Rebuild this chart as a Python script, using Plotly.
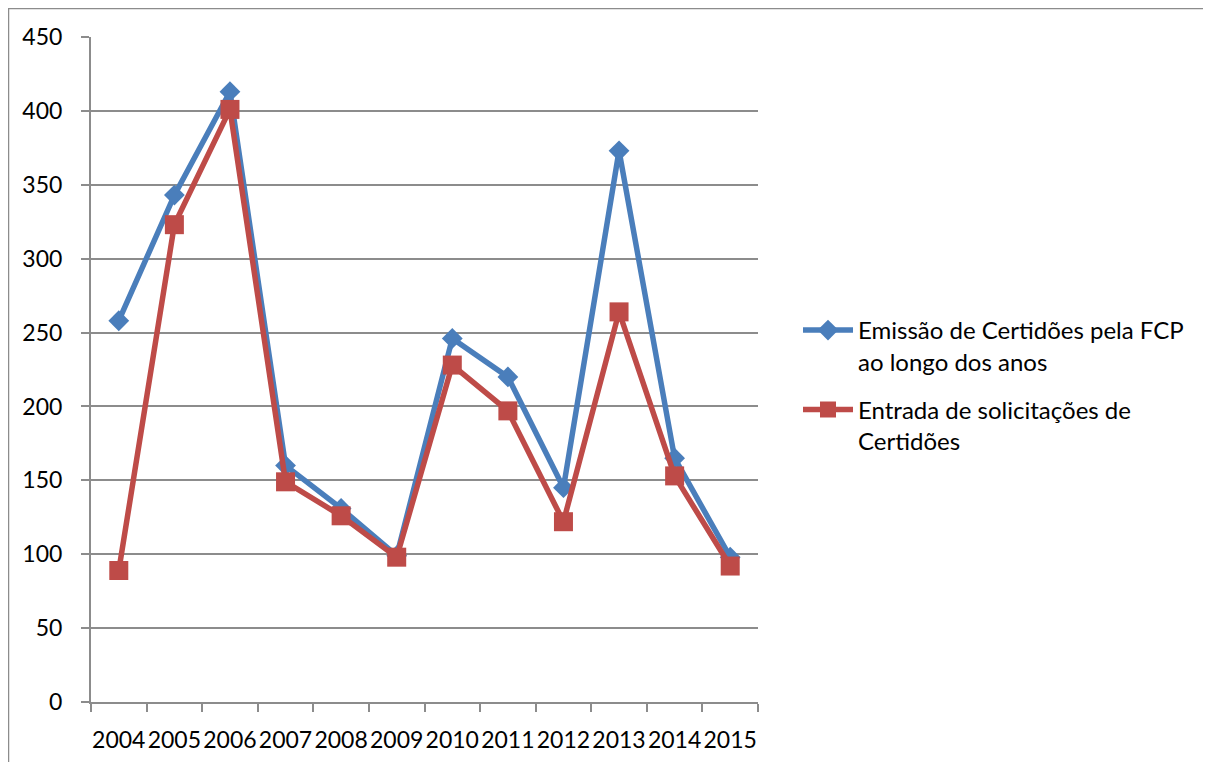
import plotly.graph_objects as go

years = ["2004", "2005", "2006", "2007", "2008", "2009", "2010", "2011", "2012", "2013", "2014", "2015"]
emissao = [258, 343, 413, 160, 131, 99, 246, 220, 145, 373, 165, 98]
entrada = [89, 323, 401, 149, 126, 98, 228, 197, 122, 264, 153, 92]
y_ticks = [0, 50, 100, 150, 200, 250, 300, 350, 400, 450]

name1 = "Emissão de Certidões pela FCP<br>ao longo dos anos"
name2 = "Entrada de solicitações de<br>Certidões"

BLUE = "#4a7ebb"
RED = "#be4b48"
GRID = "#8c8c8c"
FONT = "Lato, 'Open Sans', sans-serif"

W, H = 1203, 754
L, R, T, B = 83, 750, 29, 694  # plot area in figure pixels
PW, PH = R - L, B - T

fig = go.Figure()
fig.add_trace(go.Scatter(
    x=years, y=emissao, name=name1, mode="lines+markers", legendgroup="a",
    line=dict(color=BLUE, width=5.5),
    marker=dict(symbol="diamond", size=16, color=BLUE),
))
fig.add_trace(go.Scatter(
    x=years, y=entrada, name=name2, mode="lines+markers", legendgroup="b",
    line=dict(color=RED, width=5.5),
    marker=dict(symbol="square", size=19, color=RED),
))

fig.update_layout(
    width=W, height=H,
    margin=dict(l=L, r=W - R, t=T, b=H - B, pad=0, autoexpand=False),
    paper_bgcolor="white", plot_bgcolor="white",
    font=dict(family=FONT, size=23, color="black"),
    showlegend=True,
    legend=dict(x=(790 - L) / PW, y=(B - 300) / PH, xanchor="left", yanchor="top",
                font=dict(size=24), tracegroupgap=14, valign="top",
                traceorder="grouped", itemwidth=50, bgcolor="rgba(0,0,0,0)"),
    xaxis=dict(type="category", range=[-0.5, len(years) - 0.5],
               tickson="boundaries", ticks="outside",
               ticklen=8, tickwidth=2, tickcolor=GRID, tickangle=0,
               showline=True, linecolor=GRID, linewidth=2,
               showgrid=False, zeroline=False, ticklabelstandoff=16,
               tickfont=dict(size=23)),
    yaxis=dict(range=[0, 450], tickvals=y_ticks, ticks="outside",
               ticklen=8, tickwidth=2, tickcolor=GRID,
               showline=True, linecolor=GRID, linewidth=2,
               showgrid=True, gridcolor=GRID, gridwidth=2,
               zeroline=False, ticklabelstandoff=14, tickfont=dict(size=23)),
    shapes=[
        dict(type="line", xref="paper", yref="paper",
             x0=(0 - L) / PW, x1=(W + 5 - L) / PW,
             y0=(B - 0.5) / PH, y1=(B - 0.5) / PH,
             line=dict(color=GRID, width=1.5)),
        dict(type="line", xref="paper", yref="paper",
             x0=(0.5 - L) / PW, x1=(0.5 - L) / PW,
             y0=(B - 0) / PH, y1=(B - H - 5) / PH,
             line=dict(color=GRID, width=1.5)),
    ],
)

fig.write_html("out.html")
